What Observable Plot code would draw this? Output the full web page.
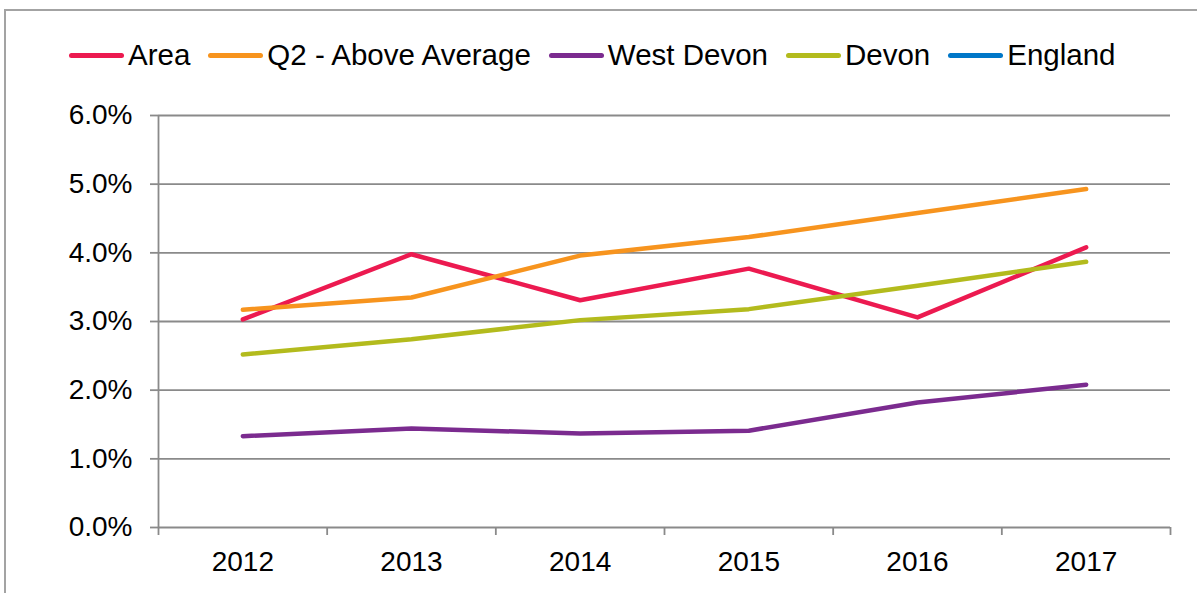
<!DOCTYPE html>
<html>
<head>
<meta charset="utf-8">
<script src="https://cdn.jsdelivr.net/npm/d3@7"></script>
<script src="https://cdn.jsdelivr.net/npm/@observablehq/plot@0.6"></script>
<style>
  html, body { margin: 0; padding: 0; background: #fff; overflow: hidden; width: 1197px; height: 593px; }
  body { font-family: "Liberation Sans", Arial, sans-serif; position: relative; }
  #frame { position: absolute; left: 4px; top: 9px; width: 1400px; height: 800px; border: 2px solid #a3a3a3; box-sizing: border-box; }
  #legend { position: absolute; left: 69px; top: 38px; display: flex; align-items: center; font-size: 29.5px; color: #000; white-space: nowrap; }
  .item { display: flex; align-items: center; margin-right: 18px; }
  .sw { display: inline-block; width: 55px; height: 5px; border-radius: 3px; margin-right: 4px; }
  #chart { position: absolute; left: 0; top: 90px; }
</style>
</head>
<body>
<div id="frame"></div>
<div id="legend"></div>
<div id="chart"></div>
<script>
// Categories and tick labels
const years = [2012, 2013, 2014, 2015, 2016, 2017];
const yTicks = [0, 0.01, 0.02, 0.03, 0.04, 0.05, 0.06];
const seriesNames = ["Area", "Q2 - Above Average", "West Devon", "Devon", "England"];
const seriesColors = ["#EC1A50", "#F7941E", "#7B2B8F", "#B3BB1D", "#0077C8"];

// Series values (fractions)
const area       = [0.0303, 0.0398, 0.0331, 0.0377, 0.0306, 0.0408];
const q2Above    = [0.0317, 0.0335, 0.0396, 0.0423, 0.0458, 0.0493];
const westDevon  = [0.0133, 0.0144, 0.0137, 0.0141, 0.0182, 0.0208];
const devon      = [0.0252, 0.0274, 0.0302, 0.0318, 0.0352, 0.0387];
const england    = []; // no values plotted in the reference

const seriesValues = [area, q2Above, westDevon, devon, england];

const table = [];
seriesNames.forEach((name, i) => {
  seriesValues[i].forEach((v, j) => table.push({series: name, year: years[j], value: v}));
});

// Category boundaries for the tick marks between categories
const boundaries = d3.range(years.length + 1).map(i => years[0] - 0.5 + i);

// Legend
const legend = document.getElementById("legend");
seriesNames.forEach((name, i) => {
  const it = document.createElement("div");
  it.className = "item";
  const sw = document.createElement("span");
  sw.className = "sw";
  sw.style.background = seriesColors[i];
  const tx = document.createElement("span");
  tx.textContent = name;
  it.appendChild(sw); it.appendChild(tx);
  legend.appendChild(it);
});

const gridColor = "#8a8a8a";

const chart = Plot.plot({
  width: 1197,
  height: 503,
  marginTop: 25,
  marginBottom: 66,
  marginLeft: 158,
  marginRight: 27,
  style: { fontFamily: "Liberation Sans, Arial, sans-serif", fontSize: "28px", color: "#000", background: "transparent", overflow: "visible" },
  x: { type: "linear", domain: [boundaries[0], boundaries[boundaries.length - 1]], axis: null },
  y: { domain: [0, 0.06], axis: null },
  color: { domain: seriesNames, range: seriesColors },
  marks: [
    Plot.ruleY(yTicks, { y: d => d, stroke: gridColor, strokeWidth: 1.8 }),
    Plot.ruleX([boundaries[0]], { x: d => d, y1: 0, y2: 0.06, stroke: gridColor, strokeWidth: 1.8 }),
    Plot.axisY({ ticks: yTicks, tickFormat: d3.format(".1%"), tickSize: 8, tickPadding: 18, stroke: gridColor, strokeWidth: 1.8, fill: "#000", label: null }),
    Plot.axisX({ ticks: boundaries, tickFormat: () => "", tickSize: 8, stroke: gridColor, strokeWidth: 1.8, label: null }),
    Plot.axisX({ ticks: years, tickFormat: d => String(d), tickSize: 0, tickPadding: 24, fill: "#000", label: null }),
    Plot.line(table, { x: "year", y: "value", z: "series", stroke: "series", strokeWidth: 4.5, strokeLinecap: "round", strokeLinejoin: "round" })
  ]
});
document.getElementById("chart").appendChild(chart);
</script>
</body>
</html>
